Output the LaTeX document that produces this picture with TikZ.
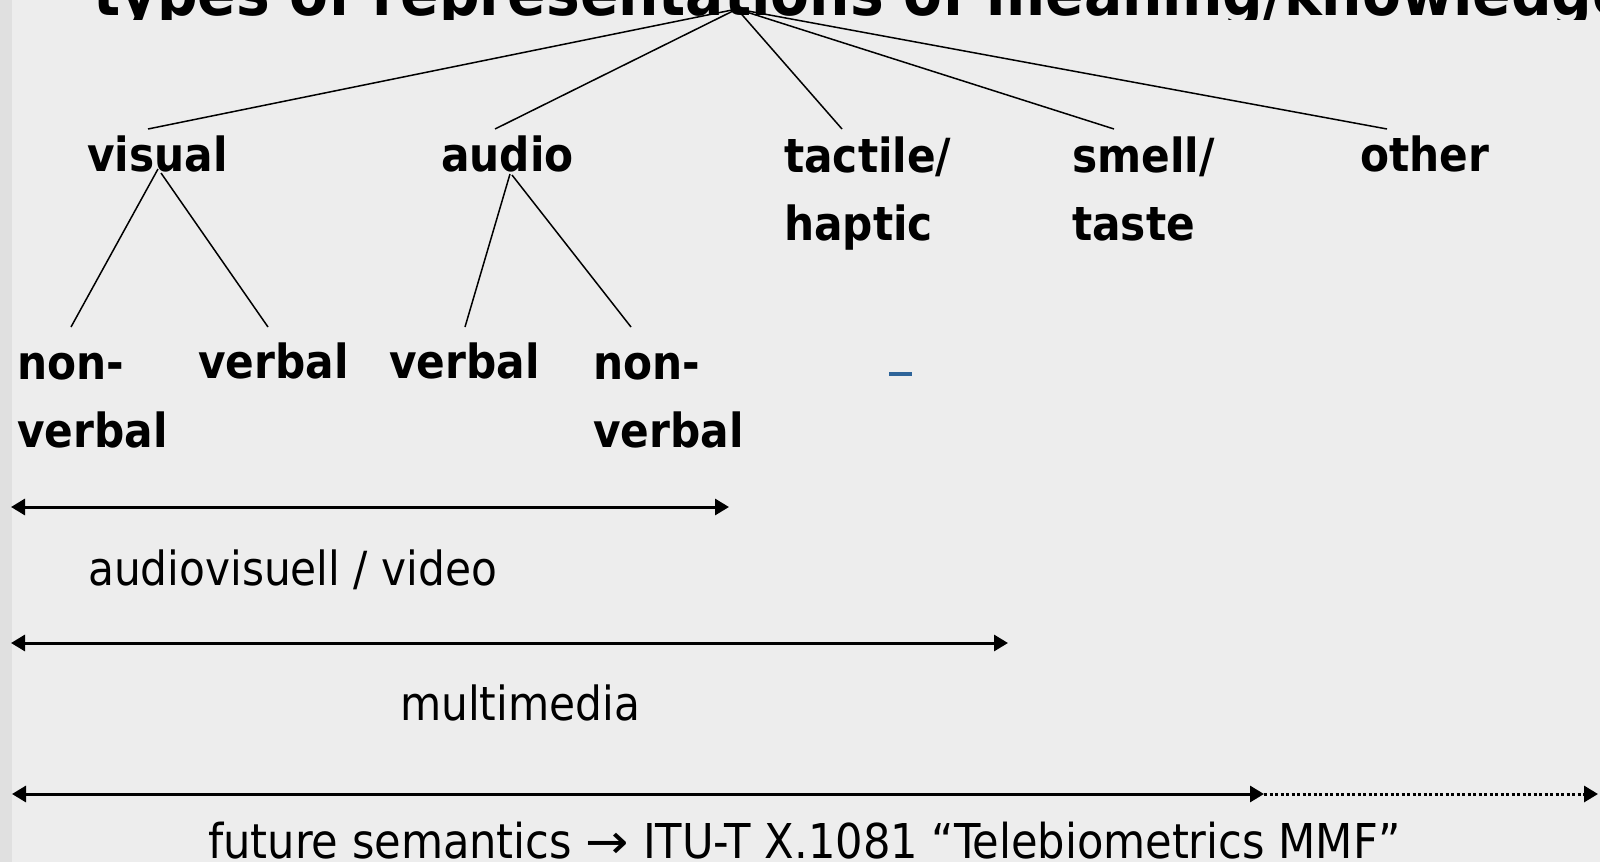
\documentclass[tikz,border=0pt]{standalone}
\usepackage{fontspec}
\setmainfont{DejaVu Sans Condensed}
\usetikzlibrary{arrows.meta,calc}
\definecolor{pagebg}{RGB}{237,237,237}
\definecolor{sidebar}{RGB}{224,224,224}
\definecolor{markblue}{RGB}{46,100,153}
\begin{document}
\begin{tikzpicture}[x=1pt,y=-1pt,
  % base west of a label is the baseline of its last line
  lbl/.style={anchor=base west, inner sep=0pt, align=left,
    font=\fontsize{47pt}{68pt}\selectfont\bfseries},
  plain/.style={anchor=base west, inner sep=0pt,
    font=\fontsize{47pt}{56pt}\selectfont},
  branch/.style={line width=1.5pt, black},
  tip/.tip={Triangle[length=14pt,width=16pt]},
  span/.style={line width=3pt, black, tip-tip},
]
\useasboundingbox (0,0) rectangle (1600,862);
\fill[pagebg] (0,0) rectangle (1600,862);
\fill[sidebar] (0,0) rectangle (12,862);

% heading, cut off by the top edge of the slide
\begin{scope}
  \clip (0,-80) rectangle (1600,19);
  \node[anchor=base west, inner sep=0pt,
    font=\fontsize{63pt}{63pt}\selectfont\bfseries] (title) at (93,16)
    {types of representations of meaning/knowledge};
\end{scope}
\coordinate (apex) at (737,9);

% first level: senses
\node[lbl] (visual)  at (87,171)   {visual};
\node[lbl] (audio)   at (441,171)  {audio};
\node[lbl] (tactile) at (784,240)  {tactile/\\haptic};
\node[lbl] (smell)   at (1072,240) {smell/\\taste};
\node[lbl] (other)   at (1360,171) {other};

% second level: verbal / non-verbal
\node[lbl] (vnon)  at (17,447)  {non-\\verbal};
\node[lbl] (vverb) at (198,378) {verbal};
\node[lbl] (averb) at (389,378) {verbal};
\node[lbl] (anon)  at (593,447) {non-\\verbal};

% tree branches
\draw[branch] (apex) -- ($(visual.base west)+(61,-42)$);
\draw[branch] (apex) -- ($(audio.base west)+(54,-42)$);
\draw[branch] (apex) -- ($(tactile.base west)+(58,-111)$);
\draw[branch] (apex) -- ($(smell.base west)+(42,-111)$);
\draw[branch] (apex) -- ($(other.base west)+(27,-42)$);

\draw[branch] ($(visual.base west)+(71,-2)$) -- ($(vnon.base west)+(54,-120)$);
\draw[branch] ($(visual.base west)+(74,2)$)  -- ($(vverb.base west)+(70,-51)$);
\draw[branch] ($(audio.base west)+(69,3)$)   -- ($(averb.base west)+(76,-51)$);
\draw[branch] ($(audio.base west)+(71,4)$)   -- ($(anon.base west)+(38,-120)$);

% small blue mark
\fill[markblue] (889,372) rectangle (912,376);

% ranges
\coordinate (av-l) at (11,507);
\coordinate (av-r) at (729,507);
\coordinate (mm-l) at (11,643);
\coordinate (mm-r) at (1008,643);
\coordinate (fut-l) at (12,794);
\coordinate (fut-m) at (1264,794);
\coordinate (fut-r) at (1598,794);

\draw[span] (av-l) -- (av-r);
\draw[span] (mm-l) -- (mm-r);
\draw[span] (fut-l) -- (fut-m);
\draw[line width=3pt, black, dash pattern=on 3pt off 2.5pt, -tip] (fut-m) -- (fut-r);

\node[plain] (avtext)  at (88,585)  {audiovisuell / video};
\node[plain] (mmtext)  at (400,720) {multimedia};
\node[plain, font=\fontsize{48pt}{56pt}\selectfont] (futtext) at (208,858)
  {future semantics \scalebox{1.2}[1]{→} ITU-T X.1081 “Telebiometrics MMF”};
\end{tikzpicture}
\end{document}
